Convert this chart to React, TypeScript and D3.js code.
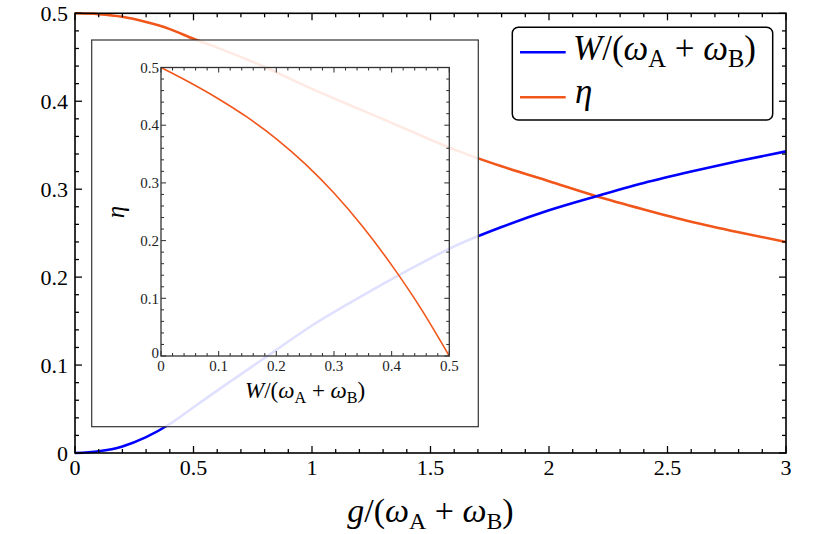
import React from "react";
import { scaleLinear, line, curveMonotoneX } from "d3";

// main panel: values
const gValues = [0, 0.1, 0.2, 0.3, 0.4, 0.5, 0.6, 0.8, 1.0, 1.2, 1.4, 1.6, 1.8, 2.0, 2.2, 2.4, 2.6, 2.8, 3.0];
const workValues = [0, 0.002, 0.0075, 0.018, 0.033, 0.052, 0.071, 0.108, 0.145, 0.177, 0.207, 0.235, 0.257, 0.276, 0.292, 0.307, 0.32, 0.332, 0.343];
const etaValues = [0.5, 0.499, 0.496, 0.49, 0.482, 0.471, 0.461, 0.439, 0.414, 0.391, 0.368, 0.345, 0.326, 0.309, 0.292, 0.277, 0.263, 0.251, 0.24];

// inset: eta against W
const insetW = [0, 0.05, 0.1, 0.15, 0.2, 0.25, 0.3, 0.35, 0.4, 0.45, 0.5];
const insetEta = [0.5, 0.474, 0.4455, 0.4135, 0.3765, 0.333, 0.2825, 0.224, 0.1575, 0.0835, 0];

const xTickLabels = ["0", "0.5", "1", "1.5", "2", "2.5", "3"];
const yTickLabels = ["0", "0.1", "0.2", "0.3", "0.4", "0.5"];
const insetTickLabels = ["0", "0.1", "0.2", "0.3", "0.4", "0.5"];

const width = 830;
const height = 534;
const blue = "#0000ff";
const orange = "#f1561b";
const font = "Liberation Serif";

const main = { left: 75, right: 786, top: 13.3, bottom: 453 };
const insetBox = { left: 91.7, right: 478.3, top: 40, bottom: 426.7 };
const inset = { left: 161, right: 449.3, top: 67.5, bottom: 356 };
const legend = { left: 512.3, right: 772.7, top: 27.3, bottom: 120 };

function MathLabel(props: { head: string; x: number; y: number; size: number; anchor?: string }) {
  const { head, x, y, size, anchor } = props;
  const sub = size * 0.2;
  return (
    <text x={x} y={y} fontSize={size} style={{ fontFamily: font }} textAnchor={anchor || "start"}>
      <tspan fontStyle="italic">{head}</tspan>
      <tspan>/(</tspan>
      <tspan fontStyle="italic">ω</tspan>
      <tspan fontSize={size * 0.7} dy={sub}>A</tspan>
      <tspan dy={-sub}> + </tspan>
      <tspan fontStyle="italic">ω</tspan>
      <tspan fontSize={size * 0.7} dy={sub}>B</tspan>
      <tspan dy={-sub}>)</tspan>
    </text>
  );
}

function Frame(props: {
  box: { left: number; right: number; top: number; bottom: number };
  x: any;
  y: any;
  xMinor: number[];
  yMinor: number[];
  xMajor: number[];
  yMajor: number[];
  major: number;
  minor: number;
  stroke: string;
  strokeWidth: number;
}) {
  const { box, x, y, xMinor, yMinor, xMajor, yMajor, major, minor, stroke, strokeWidth } = props;
  const ticks: JSX.Element[] = [];
  xMinor.forEach((v, i) => {
    const len = xMajor.some((m) => Math.abs(m - v) < 1e-9) ? major : minor;
    ticks.push(<line key={"xb" + i} x1={x(v)} x2={x(v)} y1={box.bottom} y2={box.bottom - len} />);
    ticks.push(<line key={"xt" + i} x1={x(v)} x2={x(v)} y1={box.top} y2={box.top + len} />);
  });
  yMinor.forEach((v, i) => {
    const len = yMajor.some((m) => Math.abs(m - v) < 1e-9) ? major : minor;
    ticks.push(<line key={"yl" + i} y1={y(v)} y2={y(v)} x1={box.left} x2={box.left + len} />);
    ticks.push(<line key={"yr" + i} y1={y(v)} y2={y(v)} x1={box.right} x2={box.right - len} />);
  });
  return (
    <g stroke={stroke} strokeWidth={strokeWidth * 0.8}>
      {ticks}
      <rect
        x={box.left}
        y={box.top}
        width={box.right - box.left}
        height={box.bottom - box.top}
        fill="none"
        strokeWidth={strokeWidth}
      />
    </g>
  );
}

export default function App() {
  const x = scaleLinear().domain([0, 3]).range([main.left, main.right]);
  const y = scaleLinear().domain([0, 0.5]).range([main.bottom, main.top]);
  const ix = scaleLinear().domain([0, 0.5]).range([inset.left, inset.right]);
  const iy = scaleLinear().domain([0, 0.5]).range([inset.bottom, inset.top]);

  const workPath = line<number>()
    .x((_, i) => x(gValues[i]))
    .y((d) => y(d))
    .curve(curveMonotoneX)(workValues) as string;
  const etaPath = line<number>()
    .x((_, i) => x(gValues[i]))
    .y((d) => y(d))
    .curve(curveMonotoneX)(etaValues) as string;
  const insetPath = line<number>()
    .x((_, i) => ix(insetW[i]))
    .y((d) => iy(d))
    .curve(curveMonotoneX)(insetEta) as string;

  const xMajor = xTickLabels.map(Number);
  const yMajor = yTickLabels.map(Number);
  const iMajor = insetTickLabels.map(Number);

  return (
    <svg width={width} height={height} style={{ position: "absolute", left: 0, top: 0, background: "#fff", fontFamily: font }}>
      {/* main curves */}
      <path d={etaPath} fill="none" stroke={orange} strokeWidth={2.6} />
      <path d={workPath} fill="none" stroke={blue} strokeWidth={2.6} />

      <Frame
        box={main}
        x={x}
        y={y}
        xMinor={x.ticks(30)}
        yMinor={y.ticks(25)}
        xMajor={xMajor}
        yMajor={yMajor}
        major={7}
        minor={4}
        stroke="#000"
        strokeWidth={1.6}
      />

      {xTickLabels.map((t) => (
        <text key={"xl" + t} x={x(+t)} y={475} fontSize={22} textAnchor="middle">
          {t}
        </text>
      ))}
      {yTickLabels.map((t) => (
        <text key={"yl" + t} x={68} y={y(+t)} dy="0.35em" fontSize={22} textAnchor="end">
          {t}
        </text>
      ))}
      <MathLabel head="g" x={(main.left + main.right) / 2} y={522} size={34} anchor="middle" />

      {/* inset */}
      <rect
        x={insetBox.left}
        y={insetBox.top}
        width={insetBox.right - insetBox.left}
        height={insetBox.bottom - insetBox.top}
        fill="#fff"
        fillOpacity={0.88}
        stroke="#333"
        strokeWidth={1.2}
      />
      <path d={insetPath} fill="none" stroke={orange} strokeWidth={1.6} />
      <Frame
        box={inset}
        x={ix}
        y={iy}
        xMinor={ix.ticks(25)}
        yMinor={iy.ticks(25)}
        xMajor={iMajor}
        yMajor={iMajor}
        major={5}
        minor={3}
        stroke="#333"
        strokeWidth={1.3}
      />
      {insetTickLabels.map((t) => (
        <text key={"ixl" + t} x={ix(+t)} y={371} fontSize={15} textAnchor="middle" fill="#222">
          {t}
        </text>
      ))}
      {insetTickLabels.map((t) => (
        <text key={"iyl" + t} x={159} y={iy(+t) - (t === "0" ? 3 : 0)} dy="0.35em" fontSize={15} textAnchor="end" fill="#222">
          {t}
        </text>
      ))}
      <MathLabel head="W" x={(inset.left + inset.right) / 2} y={398} size={23} anchor="middle" />
      <text x={0} y={0} fontSize={25} fontStyle="italic" textAnchor="middle" transform={`translate(124,212) rotate(-90)`}>
        η
      </text>

      {/* legend */}
      <rect
        x={legend.left}
        y={legend.top}
        width={legend.right - legend.left}
        height={legend.bottom - legend.top}
        rx={6}
        fill="#fff"
        stroke="#000"
        strokeWidth={1.5}
      />
      <line x1={520} x2={565.7} y1={52.3} y2={52.3} stroke={blue} strokeWidth={2.6} />
      <line x1={520} x2={565.7} y1={97.3} y2={97.3} stroke={orange} strokeWidth={2.6} />
      <MathLabel head="W" x={573} y={60} size={35} />
      <text x={575} y={103} fontSize={35} fontStyle="italic">
        η
      </text>
    </svg>
  );
}
